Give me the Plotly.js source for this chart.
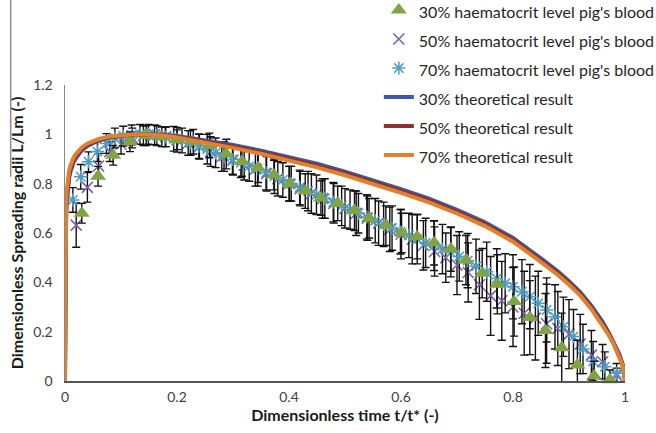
<!DOCTYPE html>
<html>
<head>
<meta charset="utf-8">
<script src="https://cdn.plot.ly/plotly-3.0.1.min.js"></script>
<style>html,body{margin:0;padding:0;background:#fff;}#chart{width:656px;height:433px;}</style>
</head>
<body>
<div id="chart"></div>
<script>
// Theoretical curves
var tTheory = [0, 0.0005, 0.001, 0.002, 0.003, 0.005, 0.0075, 0.01, 0.015, 0.02, 0.03, 0.04, 0.05, 0.06, 0.08, 0.1, 0.12, 0.14, 0.16, 0.18, 0.2, 0.25, 0.3, 0.35, 0.4, 0.45, 0.5, 0.55, 0.6, 0.65, 0.7, 0.75, 0.8, 0.85, 0.88, 0.9, 0.92, 0.94, 0.96, 0.97, 0.98, 0.99, 0.995, 0.998, 1.0];
var theory30 = [0, 0.45, 0.56, 0.66, 0.72, 0.78, 0.825, 0.85, 0.885, 0.905, 0.935, 0.953, 0.966, 0.975, 0.987, 0.994, 0.998, 1.0, 1.0, 0.998, 0.993, 0.977, 0.957, 0.934, 0.909, 0.881, 0.849, 0.814, 0.778, 0.739, 0.694, 0.643, 0.58, 0.497, 0.445, 0.405, 0.36, 0.305, 0.24, 0.2, 0.158, 0.108, 0.074, 0.045, 0];
var theory50 = [0, 0.5, 0.6, 0.69, 0.745, 0.8, 0.84, 0.862, 0.895, 0.913, 0.941, 0.958, 0.97, 0.978, 0.989, 0.995, 0.998, 1.0, 0.999, 0.996, 0.99, 0.972, 0.951, 0.928, 0.902, 0.874, 0.842, 0.807, 0.771, 0.732, 0.687, 0.636, 0.573, 0.49, 0.438, 0.398, 0.353, 0.298, 0.234, 0.195, 0.153, 0.104, 0.071, 0.043, 0];
var theory70 = [0, 0.55, 0.64, 0.72, 0.77, 0.82, 0.855, 0.875, 0.905, 0.922, 0.947, 0.963, 0.974, 0.981, 0.991, 0.996, 0.999, 1.0, 0.998, 0.994, 0.987, 0.967, 0.945, 0.921, 0.895, 0.866, 0.834, 0.799, 0.763, 0.724, 0.679, 0.628, 0.565, 0.482, 0.43, 0.39, 0.346, 0.291, 0.227, 0.189, 0.148, 0.1, 0.068, 0.04, 0];

// Experimental: 30% haematocrit
var t30 = [0.030, 0.059, 0.086, 0.116, 0.145, 0.173, 0.200, 0.229, 0.258, 0.288, 0.316, 0.345, 0.373, 0.401, 0.429, 0.457, 0.487, 0.517, 0.543, 0.573, 0.601, 0.629, 0.659, 0.689, 0.716, 0.745, 0.772, 0.802, 0.830, 0.858, 0.887, 0.915, 0.945, 0.973];
var v30 = [0.68, 0.83, 0.915, 0.97, 0.995, 0.99, 0.978, 0.97, 0.955, 0.92, 0.89, 0.865, 0.835, 0.80, 0.77, 0.742, 0.72, 0.69, 0.66, 0.63, 0.60, 0.585, 0.56, 0.535, 0.49, 0.437, 0.392, 0.322, 0.257, 0.205, 0.135, 0.065, 0.02, 0.005];
var e30 = [0.04, 0.04, 0.04, 0.04, 0.04, 0.04, 0.04, 0.05, 0.05, 0.06, 0.06, 0.06, 0.06, 0.07, 0.07, 0.07, 0.07, 0.08, 0.08, 0.08, 0.08, 0.09, 0.09, 0.09, 0.1, 0.1, 0.12, 0.14, 0.15, 0.15, 0.14, 0.1, 0.06, 0.04];

// Experimental: 50% haematocrit
var t50 = [0.02, 0.04, 0.06, 0.08, 0.10, 0.12, 0.14, 0.16, 0.18, 0.20, 0.22, 0.24, 0.26, 0.28, 0.30, 0.32, 0.34, 0.36, 0.38, 0.40, 0.42, 0.44, 0.46, 0.48, 0.50, 0.52, 0.54, 0.56, 0.58, 0.60, 0.62, 0.64, 0.66, 0.68, 0.70, 0.72, 0.74, 0.76, 0.78, 0.80, 0.82, 0.84, 0.86, 0.88, 0.90, 0.92, 0.94, 0.96, 0.985];
var v50 = [0.632, 0.785, 0.872, 0.93, 0.96, 0.985, 0.995, 0.998, 0.99, 0.978, 0.965, 0.95, 0.93, 0.91, 0.895, 0.875, 0.86, 0.84, 0.82, 0.80, 0.78, 0.76, 0.74, 0.72, 0.70, 0.68, 0.66, 0.64, 0.615, 0.595, 0.575, 0.55, 0.525, 0.50, 0.47, 0.44, 0.39, 0.345, 0.325, 0.30, 0.275, 0.255, 0.232, 0.213, 0.19, 0.15, 0.105, 0.078, 0.022];
var e50 = [0.09, 0.06, 0.05, 0.04, 0.04, 0.04, 0.04, 0.04, 0.04, 0.05, 0.05, 0.05, 0.06, 0.06, 0.06, 0.06, 0.07, 0.07, 0.07, 0.07, 0.07, 0.08, 0.08, 0.08, 0.08, 0.09, 0.09, 0.09, 0.09, 0.1, 0.1, 0.1, 0.1, 0.1, 0.12, 0.12, 0.14, 0.16, 0.16, 0.16, 0.17, 0.17, 0.16, 0.15, 0.14, 0.12, 0.1, 0.07, 0.03];

// Experimental: 70% haematocrit
var t70 = [0.014, 0.028, 0.042, 0.058, 0.074, 0.089, 0.104, 0.119, 0.134, 0.149, 0.164, 0.179, 0.194, 0.209, 0.224, 0.239, 0.254, 0.269, 0.284, 0.299, 0.314, 0.329, 0.344, 0.359, 0.374, 0.389, 0.404, 0.419, 0.434, 0.449, 0.464, 0.479, 0.494, 0.509, 0.524, 0.539, 0.554, 0.569, 0.584, 0.599, 0.614, 0.629, 0.644, 0.659, 0.674, 0.689, 0.704, 0.719, 0.734, 0.753, 0.771, 0.786, 0.800, 0.816, 0.830, 0.845, 0.860, 0.875, 0.890, 0.908, 0.925, 0.943, 0.964, 0.985];
var v70 = [0.734, 0.828, 0.889, 0.93, 0.963, 0.985, 0.993, 0.998, 1.0, 1.0, 0.995, 0.99, 0.982, 0.975, 0.965, 0.952, 0.94, 0.925, 0.91, 0.898, 0.885, 0.87, 0.86, 0.845, 0.83, 0.815, 0.80, 0.785, 0.77, 0.755, 0.74, 0.725, 0.71, 0.695, 0.68, 0.665, 0.65, 0.635, 0.62, 0.605, 0.59, 0.575, 0.56, 0.548, 0.535, 0.522, 0.505, 0.488, 0.465, 0.443, 0.416, 0.396, 0.382, 0.362, 0.342, 0.315, 0.288, 0.26, 0.22, 0.18, 0.13, 0.08, 0.058, 0.031];
var e70 = [0.05, 0.05, 0.04, 0.04, 0.04, 0.04, 0.04, 0.04, 0.04, 0.04, 0.04, 0.04, 0.05, 0.05, 0.05, 0.05, 0.06, 0.06, 0.06, 0.06, 0.06, 0.06, 0.07, 0.07, 0.07, 0.07, 0.07, 0.07, 0.08, 0.08, 0.08, 0.08, 0.08, 0.08, 0.08, 0.09, 0.09, 0.09, 0.09, 0.09, 0.09, 0.1, 0.1, 0.1, 0.1, 0.1, 0.1, 0.11, 0.11, 0.12, 0.12, 0.12, 0.13, 0.13, 0.13, 0.13, 0.13, 0.13, 0.12, 0.11, 0.1, 0.08, 0.06, 0.04];

var names = ["30% haematocrit level pig's blood", "50% haematocrit level pig's blood", "70% haematocrit level pig's blood", "30% theoretical result", "50% theoretical result", "70% theoretical result"];
var xTicks = [0, 0.2, 0.4, 0.6, 0.8, 1];
var xTickText = ["0", "0.2", "0.4", "0.6", "0.8", "1"];
var yTicks = [0, 0.2, 0.4, 0.6, 0.8, 1, 1.2];
var yTickText = ["0", "0.2", "0.4", "0.6", "0.8", "1", "1.2"];

function lg(s) { return '<span style="font-size:16px">' + s + '</span>'; }
function errs(arr) { return {type: 'data', array: arr, visible: true, color: '#111111', thickness: 1.4, width: 4}; }

var traces = [
  {x: t50, y: v50, name: lg(names[1]), legendrank: 2, type: 'scatter', mode: 'markers', cliponaxis: false,
   marker: {symbol: 'x-thin-open', size: 11, color: '#7B5EA8', line: {width: 1.5, color: '#7B5EA8'}}, error_y: errs(e50)},
  {x: t70, y: v70, name: lg(names[2]), legendrank: 3, type: 'scatter', mode: 'markers', cliponaxis: false,
   marker: {symbol: 'asterisk-open', size: 11, color: '#4E9CC2', line: {width: 1.5, color: '#4E9CC2'}}, error_y: errs(e70)},
  {x: t30, y: v30, name: lg(names[0]), legendrank: 1, type: 'scatter', mode: 'markers', cliponaxis: false,
   marker: {symbol: 'triangle-up', size: 14, color: '#80A344'}, error_y: errs(e30)},
  {x: tTheory, y: theory30, name: lg(names[3]), legendrank: 4, type: 'scatter', mode: 'lines', cliponaxis: false,
   line: {color: '#3D58A4', width: 4}},
  {x: tTheory, y: theory50, name: lg(names[4]), legendrank: 5, type: 'scatter', mode: 'lines', cliponaxis: false,
   line: {color: '#8E3130', width: 4}},
  {x: tTheory, y: theory70, name: lg(names[5]), legendrank: 6, type: 'scatter', mode: 'lines', cliponaxis: false,
   line: {color: '#DE8230', width: 4}}
];

var layout = {
  width: 656, height: 433,
  margin: {l: 65, r: 31, t: 85, b: 52, autoexpand: false},
  paper_bgcolor: '#ffffff', plot_bgcolor: '#ffffff',
  font: {family: 'Lato, "Open Sans", sans-serif', color: '#404040', size: 14},
  showlegend: true,
  legend: {x: 0.5604, y: 1.319, xanchor: 'left', yanchor: 'top', bgcolor: 'rgba(0,0,0,0)',
    font: {size: 20, color: '#262626', family: 'Lato, "Open Sans", sans-serif'}, itemwidth: 30},
  xaxis: {range: [0, 1], tickvals: xTicks, ticktext: xTickText, showgrid: false, zeroline: false,
    showline: true, linecolor: '#555555', linewidth: 2, ticks: '', ticklabelstandoff: 2,
    tickfont: {size: 14, color: '#404040'},
    title: {text: '<b>Dimensionless time t/t* (-)</b>', font: {size: 16, color: '#1a1a1a'}, standoff: 0}},
  yaxis: {range: [0, 1.2], tickvals: yTicks, ticktext: yTickText, showgrid: false, zeroline: false,
    showline: true, linecolor: '#888888', linewidth: 1.5, ticks: '', ticklabelstandoff: 8,
    tickfont: {size: 14, color: '#404040'},
    title: {text: '<b>Dimensionless Spreading radii L/Lm (-)</b>', font: {size: 16, color: '#1a1a1a'}, standoff: 5}},
  shapes: [
    {type: 'line', xref: 'paper', yref: 'paper', x0: -0.097, x1: -0.097, y0: 1.287, y1: 0.69,
     line: {color: '#8a8a8a', width: 1.5}}
  ]
};

Plotly.newPlot('chart', traces, layout, {displayModeBar: false, staticPlot: true});
</script>
</body>
</html>
